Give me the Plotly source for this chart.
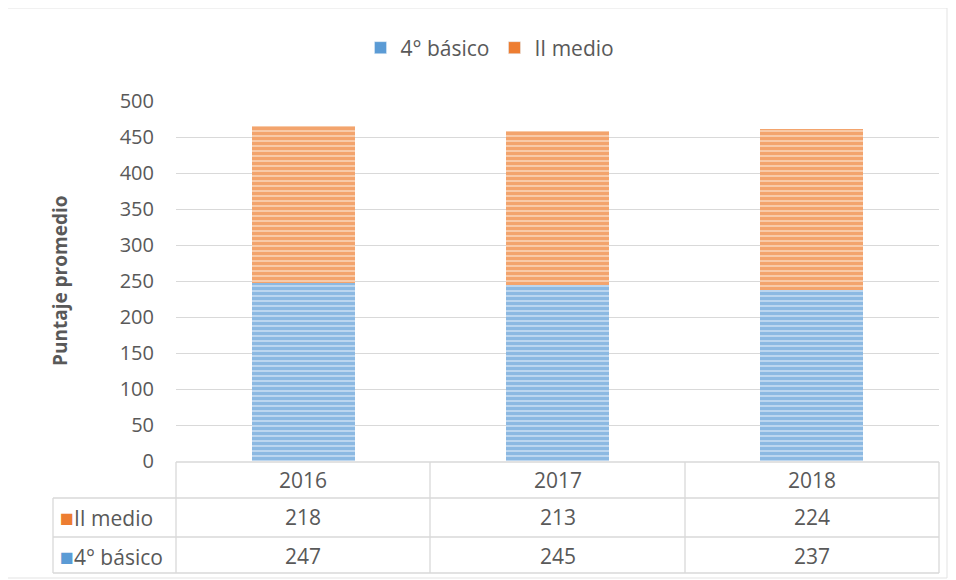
import plotly.graph_objects as go

years = ["2016", "2017", "2018"]
basico = [247, 245, 237]
medio = [218, 213, 224]
series_names = ["4° básico", "II medio"]
y_ticks = [0, 50, 100, 150, 200, 250, 300, 350, 400, 450, 500]

BLUE = "#5b9bd5"
BLUE_LIGHT = "#bcd6ef"
ORANGE = "#ed7d31"
ORANGE_LIGHT = "#f8caa8"
GRID = "#d9d9d9"
TEXT = "#595959"
FONT = "Open Sans"

# page has an 8px body margin, so work in reference pixels and shift by 8
OFF = 8
W, H = 956 - 2 * OFF, 580 - OFF
L, R, T, B = 176, 939, 101, 461


def px_x(x):
    return (x - L) / (R - L)


def px_y(y):
    return (B - y) / (B - T)


fig = go.Figure()
fig.add_trace(go.Bar(
    x=years, y=basico, name=series_names[0], showlegend=False,
    marker=dict(color=BLUE_LIGHT, line=dict(width=0),
                pattern=dict(shape="-", fgcolor=BLUE, bgcolor=BLUE_LIGHT, size=5, solidity=0.6)),
))
fig.add_trace(go.Bar(
    x=years, y=medio, name=series_names[1], showlegend=False,
    marker=dict(color=ORANGE_LIGHT, line=dict(width=0),
                pattern=dict(shape="-", fgcolor=ORANGE, bgcolor=ORANGE_LIGHT, size=5, solidity=0.6)),
))
# legend entries with solid swatches
fig.add_trace(go.Bar(x=[None], y=[None], name=series_names[0], marker_color=BLUE))
fig.add_trace(go.Bar(x=[None], y=[None], name=series_names[1], marker_color=ORANGE))

shapes = []
line = dict(color=GRID, width=1.3)
shapes.append(dict(type="line", xref="paper", yref="paper", x0=0, x1=1, y0=px_y(462), y1=px_y(462), line=line))
for yy in [498, 537, 573]:
    shapes.append(dict(type="line", xref="paper", yref="paper", x0=px_x(53), x1=1, y0=px_y(yy), y1=px_y(yy), line=line))
shapes.append(dict(type="line", xref="paper", yref="paper", x0=px_x(53), x1=px_x(53), y0=px_y(498), y1=px_y(573), line=line))
for xx in [176, 430, 685, 939]:
    shapes.append(dict(type="line", xref="paper", yref="paper", x0=px_x(xx), x1=px_x(xx), y0=px_y(462), y1=px_y(573), line=line))
shapes.append(dict(type="rect", xref="paper", yref="paper", x0=px_x(7), x1=px_x(947), y0=px_y(8), y1=px_y(578),
                   line=dict(color="#e3e3e3", width=1)))

tf = dict(size=21, color=TEXT, family=FONT)
annotations = []
for i, yr in enumerate(years):
    for val, yy in [(yr, 480), (str(medio[i]), 517), (str(basico[i]), 556)]:
        annotations.append(dict(x=i, y=px_y(yy), xref="x", yref="paper", xanchor="center", yanchor="middle",
                                text=val, showarrow=False, font=tf))
for name, col, yy in [(series_names[1], ORANGE, 517), (series_names[0], BLUE, 556)]:
    annotations.append(dict(x=px_x(58), y=px_y(yy), xref="paper", yref="paper", xanchor="left", yanchor="middle",
                            text=f"<span style='color:{col};font-size:23px'>■</span>{name}",
                            showarrow=False, font=tf))
annotations.append(dict(x=px_x(60), y=px_y(281), xref="paper", yref="paper", textangle=-90,
                        xanchor="center", yanchor="middle",
                        text="<b>Puntaje promedio</b>", showarrow=False,
                        font=dict(size=19, color=TEXT, family=FONT)))

fig.update_layout(
    width=W, height=H,
    margin=dict(l=L - OFF, r=W - (R - OFF), t=T - OFF, b=H - (B - OFF)),
    paper_bgcolor="white", plot_bgcolor="white",
    barmode="stack", bargap=0.595,
    font=dict(family=FONT, color=TEXT, size=20),
    legend=dict(orientation="h", x=px_x(490), xanchor="center", y=px_y(48), yanchor="middle",
                font=dict(size=21, color=TEXT), traceorder="normal", itemwidth=30),
    shapes=shapes, annotations=annotations,
    showlegend=True,
)
fig.update_xaxes(type="category", range=[-0.5, 2.5], showticklabels=False, showgrid=False,
                 showline=False, zeroline=False)
fig.update_yaxes(range=[0, 500], tickvals=y_ticks, showgrid=True, gridcolor=GRID, gridwidth=1.3,
                 zeroline=False, showline=False, ticks="", ticklabelstandoff=21,
                 tickfont=dict(size=20, color=TEXT))

fig.write_html("out.html")
